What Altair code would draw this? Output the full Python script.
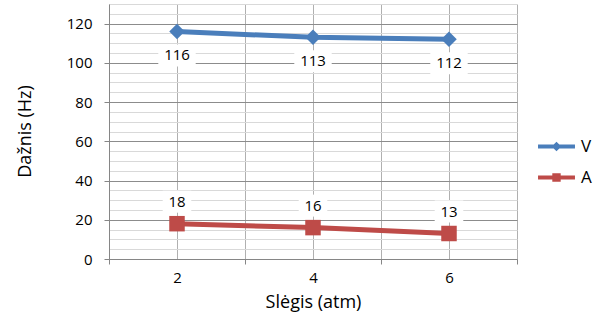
import altair as alt
import pandas as pd

pressure = [2, 4, 6]
v_values = [116, 113, 112]
a_values = [18, 16, 13]
series_names = ["V", "A"]
colors = ["#4A7EBB", "#BE4B48"]
y_ticks = list(range(0, 131, 5))
x_ticks = [1, 2, 3, 4, 5, 6, 7]

rows = []
for p, v in zip(pressure, v_values):
    rows.append({"p": p, "val": v, "series": "V", "label": str(v)})
for p, a in zip(pressure, a_values):
    rows.append({"p": p, "val": a, "series": "A", "label": str(a)})
df = pd.DataFrame(rows)

FONT = "Open Sans"

x_enc = alt.X(
    "p:Q",
    scale=alt.Scale(domain=[1, 7], nice=False, zero=False),
    axis=alt.Axis(
        values=x_ticks,
        labelExpr="datum.value % 2 === 0 ? datum.label : ''",
        title="Slėgis (atm)",
        grid=True,
        gridColor="#b0b0b0",
        tickColor={"condition": {"test": "datum.value % 2 === 1", "value": "#868686"}, "value": "transparent"},
        tickSize=5,
        domainColor="#868686",
        labelPadding=6,
        labelFont=FONT,
        labelFontSize=15,
        labelColor="black",
        titleFont=FONT,
        titleFontSize=18,
        titleFontWeight="normal",
        titleColor="black",
        titleY=43,
        titleBaseline="middle",
    ),
)

y_enc = alt.Y(
    "val:Q",
    scale=alt.Scale(domain=[0, 130], nice=False),
    axis=alt.Axis(
        values=y_ticks,
        labelExpr="datum.value % 20 === 0 ? datum.label : ''",
        title="Dažnis (Hz)",
        grid=True,
        gridColor={"condition": {"test": "datum.value % 20 === 0", "value": "#8c8c8c"}, "value": "#d9d9d9"},
        tickColor={"condition": {"test": "datum.value % 20 === 0", "value": "#868686"}, "value": "transparent"},
        tickSize=5,
        domainColor="#868686",
        labelPadding=12,
        labelFont=FONT,
        labelFontSize=15,
        labelColor="black",
        titleFont=FONT,
        titleFontSize=18,
        titleFontWeight="normal",
        titleColor="black",
        titleAngle=-90,
        titleX=-84,
        titleY=127,
        titleAlign="center",
        titleBaseline="middle",
    ),
)

base = alt.Chart(df)

box3 = "M-1.7,-1L1.7,-1L1.7,1L-1.7,1Z"
box2 = "M-1.3,-1L1.3,-1L1.3,1L-1.3,1Z"

v_boxes = base.transform_filter("datum.series === 'V'").mark_point(
    shape=box3, size=484, filled=True, color="white", opacity=1, yOffset=24
).encode(x=x_enc, y=y_enc)
a_boxes = base.transform_filter("datum.series === 'A'").mark_point(
    shape=box2, size=484, filled=True, color="white", opacity=1, yOffset=-22
).encode(x=x_enc, y=y_enc)

v_text = base.transform_filter("datum.series === 'V'").mark_text(
    dy=24, font=FONT, fontSize=15, color="black"
).encode(x=x_enc, y=y_enc, text="label:N")
a_text = base.transform_filter("datum.series === 'A'").mark_text(
    dy=-22, font=FONT, fontSize=15, color="black"
).encode(x=x_enc, y=y_enc, text="label:N")

# legend-only layer (invisible on the plot): symbols are a line segment with the series marker
leg_v = "M-2.2,-0.25L2.2,-0.25L2.2,0.25L-2.2,0.25Z M0,-0.58L0.58,0L0,0.58L-0.58,0Z"
leg_a = "M-2.2,-0.25L2.2,-0.25L2.2,0.25L-2.2,0.25Z M-0.5,-0.5L0.5,-0.5L0.5,0.5L-0.5,0.5Z"
legend_def = alt.Legend(
    title=None,
    orient="none",
    legendX=439,
    legendY=134,
    symbolSize=282,
    symbolStrokeWidth=0,
    symbolOpacity=1,
    labelFont=FONT,
    labelFontSize=17,
    labelColor="black",
    labelOffset=16,
    rowPadding=13,
    padding=0,
)
legend_layer = base.mark_point(filled=True, opacity=0, size=1).encode(
    x=x_enc,
    y=y_enc,
    fill=alt.Fill("series:N", scale=alt.Scale(domain=series_names, range=colors), legend=legend_def),
    shape=alt.Shape("series:N", scale=alt.Scale(domain=series_names, range=[leg_v, leg_a]), legend=legend_def),
)

lines = base.mark_line(strokeWidth=5).encode(
    x=x_enc,
    y=y_enc,
    stroke=alt.Stroke(
        "series:N",
        scale=alt.Scale(domain=series_names, range=colors),
        legend=None,
    ),
)

v_points = base.transform_filter("datum.series === 'V'").mark_point(
    shape="diamond", filled=True, size=240, opacity=1, color=colors[0]
).encode(x=x_enc, y=y_enc)
a_points = base.transform_filter("datum.series === 'A'").mark_point(
    shape="square", filled=True, size=240, opacity=1, color=colors[1]
).encode(x=x_enc, y=y_enc)

chart = (
    alt.layer(v_boxes, a_boxes, v_text, a_text, legend_layer, lines, v_points, a_points)
    .properties(
        width=408,
        height=255,
        autosize=alt.AutoSizeParams(type="none"),
        padding={"left": 109, "top": 4, "right": 90, "bottom": 63},
        background="white",
    )
    .configure_view(stroke=None)
)

chart.save("out.html", embed_options={"renderer": "svg", "actions": False})
